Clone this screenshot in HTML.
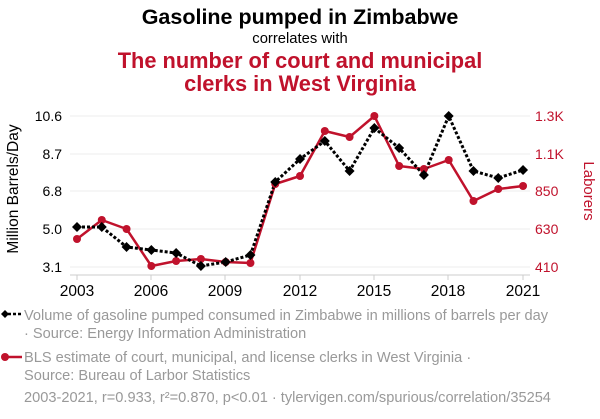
<!DOCTYPE html>
<html><head><meta charset="utf-8"><style>
body{margin:0;background:#fff;width:600px;height:414px;overflow:hidden;font-family:"Liberation Sans",sans-serif}
</style></head><body>
<svg width="600" height="414" xmlns="http://www.w3.org/2000/svg" font-family="Liberation Sans, sans-serif">
<text x="300" y="24" text-anchor="middle" font-size="21.5" font-weight="bold" fill="#000">Gasoline pumped in Zimbabwe</text>
<text x="300" y="43" text-anchor="middle" font-size="14.8" fill="#000">correlates with</text>
<text x="300" y="68" text-anchor="middle" font-size="21.8" font-weight="bold" fill="#c0122c">The number of court and municipal</text>
<text x="300" y="91" text-anchor="middle" font-size="21.8" font-weight="bold" fill="#c0122c">clerks in West Virginia</text>
<g stroke="#eee" stroke-width="1">
<line x1="70" x2="530" y1="116" y2="116"/><line x1="70" x2="530" y1="154" y2="154"/><line x1="70" x2="530" y1="191" y2="191"/><line x1="70" x2="530" y1="229" y2="229"/><line x1="70" x2="530" y1="267" y2="267"/>
</g>
<line x1="70" x2="530" y1="275" y2="275" stroke="#ccc"/>
<g stroke="#ccc"><line x1="77" x2="77" y1="275" y2="280"/><line x1="151" x2="151" y1="275" y2="280"/><line x1="225" x2="225" y1="275" y2="280"/><line x1="300" x2="300" y1="275" y2="280"/><line x1="374" x2="374" y1="275" y2="280"/><line x1="448" x2="448" y1="275" y2="280"/><line x1="523" x2="523" y1="275" y2="280"/></g>
<g font-size="15.5" text-anchor="middle" fill="#000"><text x="77" y="296">2003</text><text x="151" y="296">2006</text><text x="225" y="296">2009</text><text x="300" y="296">2012</text><text x="374" y="296">2015</text><text x="448" y="296">2018</text><text x="523" y="296">2021</text></g>
<g font-size="14" text-anchor="end" fill="#000"><text x="62" y="121">10.6</text><text x="62" y="159">8.7</text><text x="62" y="196">6.8</text><text x="62" y="234">5.0</text><text x="62" y="272">3.1</text></g>
<g font-size="14" text-anchor="start" fill="#c0122c"><text x="535" y="121">1.3K</text><text x="535" y="159">1.1K</text><text x="535" y="196">850</text><text x="535" y="234">630</text><text x="535" y="272">410</text></g>
<text transform="translate(18,189) rotate(-90)" text-anchor="middle" font-size="15.5" fill="#000">Million Barrels/Day</text>
<text transform="translate(584,191) rotate(90)" text-anchor="middle" font-size="15" fill="#c0122c">Laborers</text>
<polyline id="red" fill="none" stroke="#c0122c" stroke-width="2.5" stroke-linejoin="round"/>
<polyline id="blk" fill="none" stroke="#000" stroke-width="3" stroke-dasharray="3,2"/>
<g id="rd" fill="#c0122c"></g><g id="bd" fill="#000"></g>
<line x1="3" x2="22" y1="314" y2="314" stroke="#000" stroke-width="2.5" stroke-dasharray="3,2"/>
<path d="M1 314 L5 310 L9 314 L5 318Z" fill="#000"/>
<line x1="5" x2="22" y1="357" y2="357" stroke="#c0122c" stroke-width="2.5"/>
<circle cx="5" cy="357" r="4" fill="#c0122c"/>
<g font-size="14.6" fill="#999"><text x="24" y="320">Volume of gasoline pumped consumed in Zimbabwe in millions of barrels per day</text><text x="24" y="338">· Source: Energy Information Administration</text><text x="24" y="362">BLS estimate of court, municipal, and license clerks in West Virginia ·</text><text x="24" y="380">Source: Bureau of Larbor Statistics</text><text x="24" y="402">2003-2021, r=0.933, r²=0.870, p&lt;0.01 · tylervigen.com/spurious/correlation/35254</text></g>
<script>
var b=[227,227,247,250,253,266,262,255,182,159,141,171,128,148,175,116,171,178,170];
var r=[239,220,229,266,261,259,262,263,184,176,131,137,116,166,169,160,201,189,186];
var X=i=>77+i*24.78;
document.getElementById('red').setAttribute('points',r.map((y,i)=>X(i)+','+y).join(' '));
document.getElementById('blk').setAttribute('points',b.map((y,i)=>X(i)+','+y).join(' '));
var ns='http://www.w3.org/2000/svg',rd=document.getElementById('rd'),bd=document.getElementById('bd');
r.forEach((y,i)=>{var c=document.createElementNS(ns,'circle');c.setAttribute('cx',X(i));c.setAttribute('cy',y);c.setAttribute('r',4);rd.appendChild(c);});
b.forEach((y,i)=>{var p=document.createElementNS(ns,'path');var x=X(i);p.setAttribute('d','M'+(x-5)+' '+y+'L'+x+' '+(y-5)+'L'+(x+5)+' '+y+'L'+x+' '+(y+5)+'Z');bd.appendChild(p);});
</script>
</svg>
</body></html>
